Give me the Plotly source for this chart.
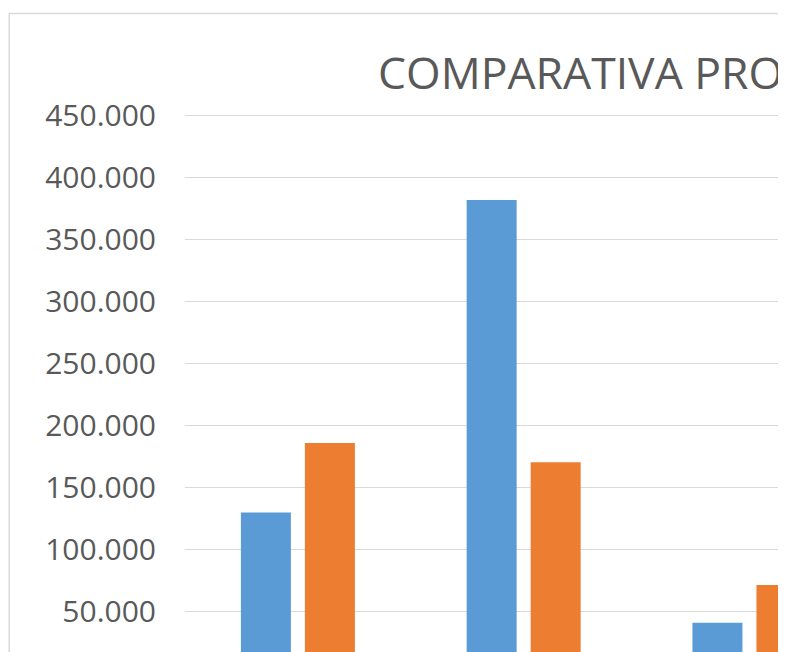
import plotly.graph_objects as go

categories = ["Cat 1", "Cat 2", "Cat 3"]
serie_1 = [130000, 382000, 41000]
serie_2 = [186000, 170500, 71500]
y_ticks = [50000, 100000, 150000, 200000, 250000, 300000, 350000, 400000, 450000]
title_text = "COMPARATIVA PRODUCCIÓN"

# the page adds an 8px body margin: figure coordinates = picture coordinates - 8
OFF = 8
W, H = 786 - OFF, 652 - OFF
left, top = 185.2 - OFF, 110 - OFF
pw, ph = W - left, H - top
px_per_unit = 62 / 50000
y_top = 454597
y_bottom = y_top - ph / px_per_unit

fig = go.Figure()
fig.add_trace(go.Bar(x=categories, y=serie_1, marker=dict(color="#5b9bd5", line=dict(width=0)), name="Serie 1"))
fig.add_trace(go.Bar(x=categories, y=serie_2, marker=dict(color="#ed7d31", line=dict(width=0)), name="Serie 2"))

cat_px = 225.7
fig.update_layout(
    width=W, height=H,
    margin=dict(l=left, r=0, t=top, b=0, pad=0),
    paper_bgcolor="white", plot_bgcolor="white",
    showlegend=False,
    barmode="group", bargap=0.433, bargroupgap=0.219,
    separators=",.",
    font=dict(family="Open Sans", color="#595959"),
    xaxis=dict(range=[-0.5, -0.5 + pw / cat_px], showticklabels=False, showgrid=False,
               zeroline=False, showline=False, ticks=""),
    yaxis=dict(range=[y_bottom, y_top], tickvals=y_ticks, tickformat=",.0f",
               showgrid=True, gridcolor="#d9d9d9", gridwidth=1.3, zeroline=False,
               showline=False, ticks="", ticklabelstandoff=28,
               tickfont=dict(family="Open Sans", size=30, color="#595959")),
)

fig.add_annotation(text=title_text, xref="paper", yref="paper",
                   x=(376 - OFF - left) / pw, y=1 + (top - 95.7) / ph,
                   xanchor="left", yanchor="bottom", showarrow=False,
                   font=dict(family="Open Sans", size=44.5, color="#595959"))

fig.add_shape(type="rect", xref="paper", yref="paper",
              x0=(9.5 - OFF - left) / pw, x1=1.2, y0=-0.2, y1=1 + (top - (13.5 - OFF)) / ph,
              line=dict(color="#d9d9d9", width=1.5), fillcolor="rgba(0,0,0,0)", layer="below")

fig.write_html("out.html")
